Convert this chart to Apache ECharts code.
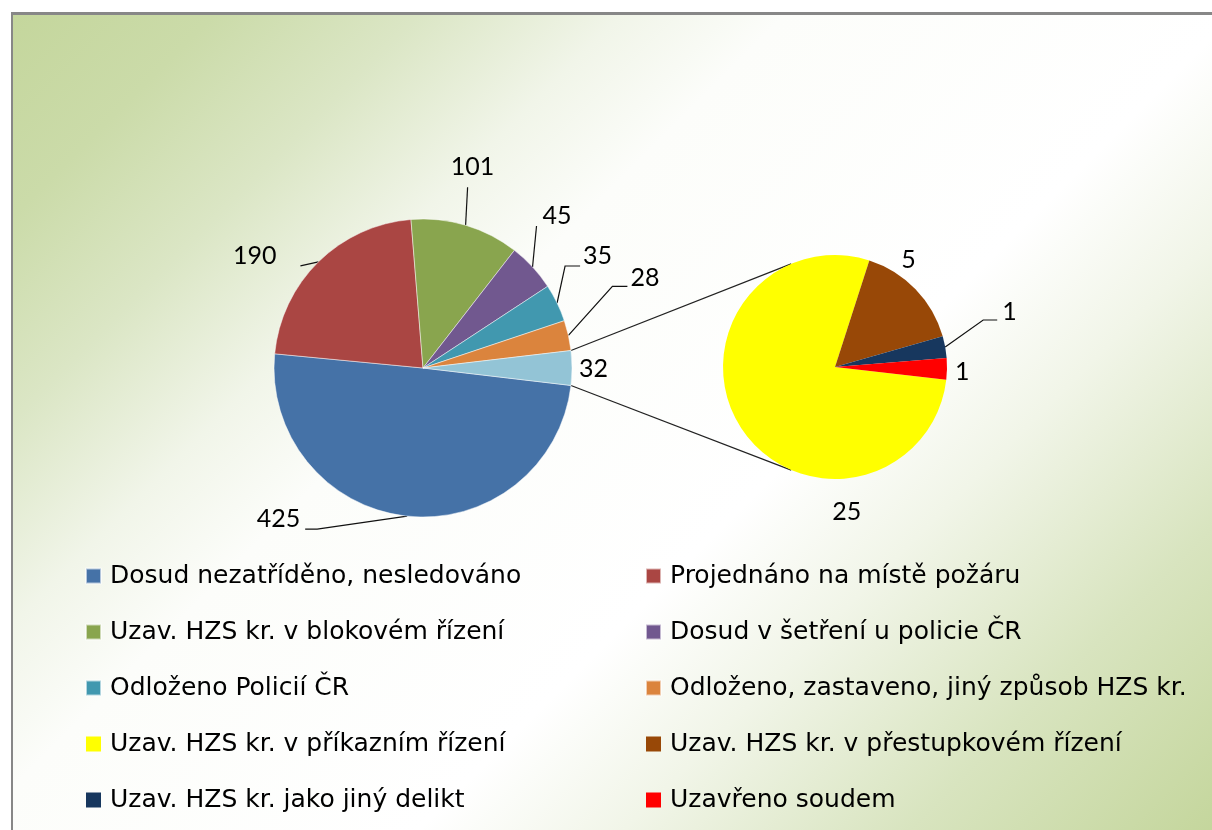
<!DOCTYPE html>
<html>
<head>
<meta charset="utf-8">
<script src="https://cdn.jsdelivr.net/npm/echarts@6/dist/echarts.min.js"></script>
<style>
  html, body { margin: 0; padding: 0; background: #fff; }
  #chart { width: 1212px; height: 830px; }
</style>
</head>
<body>
<div id="chart"></div>
<script>
// data
const mainNames = [
  'Dosud nezatříděno, nesledováno',
  'Projednáno na místě požáru',
  'Uzav. HZS kr. v blokovém řízení',
  'Dosud v šetření u policie ČR',
  'Odloženo Policií ČR',
  'Odloženo, zastaveno, jiný způsob HZS kr.',
  'Ostatní'
];
const mainValues = [425, 190, 101, 45, 35, 28, 32];

const subNames = [
  'Uzav. HZS kr. v příkazním řízení',
  'Uzav. HZS kr. v přestupkovém řízení',
  'Uzav. HZS kr. jako jiný delikt',
  'Uzavřeno soudem'
];
const subValues = [25, 5, 1, 1];

// styles
const mainColors = ['#4572a7', '#aa4643', '#89a54e', '#71588f', '#4198af', '#db843d', '#93c4d6'];
const subColors = ['#ffff00', '#984807', '#17375e', '#ff0000'];

// layout
const MAIN = {cx: 423, cy: 368, r: 149};
const SUB = {cx: 835, cy: 367, r: 112, start: -6.6};
const linkAngle = 113;
const labelFont = 'Lato, "Open Sans", sans-serif';
const legendFont = '"DejaVu Sans", sans-serif';

// label offsets from the slice edge point (mid angle)
const mainLabelPos = [
  {line: [[-90, 13], [-102, 13]], text: [-107, 3], align: 'right'},
  {line: [[-18, 4]], text: [-42, -6], align: 'right'},
  {line: [[2, -38]], text: [7, -58], align: 'center'},
  {line: [[4, -41]], text: [10, -51], align: 'left'},
  {line: [[8, -37], [23, -37]], text: [26, -47], align: 'left'},
  {line: [[44, -49], [59, -49]], text: [62, -58], align: 'left'},
  {line: null, text: [7, 1], align: 'left'}
];
const subLabelPos = [
  {line: null, text: [106, 84], align: 'center'},
  {line: null, text: [-7, -29], align: 'center'},
  {line: [[38, -27], [52, -27]], text: [57, -35], align: 'left'},
  {line: null, text: [8, 3], align: 'left'}
];

function sum(arr) {
  return arr.reduce((a, b) => a + b, 0);
}

// mid angles (deg) of slices, clockwise from start
function midAngles(values, start) {
  const total = sum(values);
  let a = start;
  return values.map(v => {
    const span = v / total * 360;
    const mid = a - span / 2;
    a -= span;
    return mid;
  });
}

function onCircle(c, deg) {
  const rad = deg * Math.PI / 180;
  return [c.cx + c.r * Math.cos(rad), c.cy - c.r * Math.sin(rad)];
}

const otherSpan = mainValues[mainValues.length - 1] / sum(mainValues) * 360;
const mainStart = -otherSpan / 2;
const mainMids = midAngles(mainValues, mainStart);
const subMids = midAngles(subValues, SUB.start);

function makeLayout(c, mids, specs) {
  return function(p) {
    const i = p.dataIndex;
    const s = specs[i];
    const anchor = onCircle(c, mids[i]);
    const out = {
      x: anchor[0] + s.text[0],
      y: anchor[1] + s.text[1],
      align: s.align,
      verticalAlign: 'middle'
    };
    if (s.line) {
      const pts = [anchor].concat(s.line.map(d => [anchor[0] + d[0], anchor[1] + d[1]]));
      while (pts.length < 3) pts.push(pts[pts.length - 1]);
      out.labelLinePoints = pts;
    }
    return out;
  };
}

function buildData(names, values, colors, specs) {
  return values.map((v, i) => ({
    name: names[i],
    value: v,
    itemStyle: {color: colors[i]},
    labelLine: {show: !!specs[i].line}
  }));
}

const labelStyle = {
  show: true,
  position: 'outside',
  formatter: '{c}',
  color: '#000',
  fontSize: 25,
  fontFamily: labelFont
};
const labelLineStyle = {show: true, length: 10, length2: 10, lineStyle: {color: '#111', width: 1.2}};

const legendBase = {
  orient: 'vertical',
  top: 563.5,
  padding: 0,
  itemGap: 31,
  itemWidth: 15,
  itemHeight: 15,
  icon: 'rect',
  selectedMode: false,
  textStyle: {color: '#000', fontSize: 25, lineHeight: 24, fontFamily: legendFont, padding: [0, 0, 0, 4]}
};

// connector lines between the pies
const topFrom = onCircle(MAIN, otherSpan / 2);
const botFrom = onCircle(MAIN, -otherSpan / 2);
const topTo = onCircle(SUB, linkAngle);
const botTo = onCircle(SUB, -linkAngle);

const chart = echarts.init(document.getElementById('chart'));
chart.setOption({
  animation: false,
  graphic: [
    {
      type: 'rect', z: -100, silent: true,
      shape: {x: 12, y: 13, width: 1300, height: 900},
      style: {
        fill: {
          type: 'linear', global: true, x: 12, y: 13, x2: 1032, y2: 1033,
          colorStops: [
            {offset: 0, color: '#c4d69c'},
            {offset: 0.1, color: '#cbdba9'},
            {offset: 0.2, color: '#dbe6c5'},
            {offset: 0.3, color: '#f1f5e9'},
            {offset: 0.38, color: '#fcfdfa'},
            {offset: 0.6, color: '#ffffff'},
            {offset: 0.7, color: '#f1f5e8'},
            {offset: 0.84, color: '#d8e4bf'},
            {offset: 1, color: '#c3d59a'}
          ]
        }
      }
    },
    {type: 'line', z: -50, silent: true, shape: {x1: 11, y1: 13.5, x2: 1212, y2: 13.5}, style: {stroke: '#878787', lineWidth: 3}},
    {type: 'line', z: -50, silent: true, shape: {x1: 12, y1: 12, x2: 12, y2: 830}, style: {stroke: '#878787', lineWidth: 2}},
    {type: 'line', z: 1, silent: true, shape: {x1: topFrom[0], y1: topFrom[1], x2: topTo[0], y2: topTo[1]}, style: {stroke: '#222', lineWidth: 1.2}},
    {type: 'line', z: 1, silent: true, shape: {x1: botFrom[0], y1: botFrom[1], x2: botTo[0], y2: botTo[1]}, style: {stroke: '#222', lineWidth: 1.2}}
  ],
  legend: [
    Object.assign({}, legendBase, {
      left: 85,
      data: [mainNames[0], mainNames[2], mainNames[4], subNames[0], subNames[2]]
    }),
    Object.assign({}, legendBase, {
      left: 645,
      data: [mainNames[1], mainNames[3], mainNames[5], subNames[1], subNames[3]]
    })
  ],
  series: [
    {
      type: 'pie',
      center: [MAIN.cx, MAIN.cy],
      radius: MAIN.r,
      startAngle: mainStart,
      clockwise: true,
      avoidLabelOverlap: false,
      emphasis: {disabled: true},
      itemStyle: {borderColor: 'rgba(255,255,255,0.6)', borderWidth: 0.8},
      label: labelStyle,
      labelLine: labelLineStyle,
      labelLayout: makeLayout(MAIN, mainMids, mainLabelPos),
      data: buildData(mainNames, mainValues, mainColors, mainLabelPos)
    },
    {
      type: 'pie',
      center: [SUB.cx, SUB.cy],
      radius: SUB.r,
      startAngle: SUB.start,
      clockwise: true,
      avoidLabelOverlap: false,
      emphasis: {disabled: true},
      itemStyle: {borderWidth: 0},
      label: labelStyle,
      labelLine: labelLineStyle,
      labelLayout: makeLayout(SUB, subMids, subLabelPos),
      data: buildData(subNames, subValues, subColors, subLabelPos)
    }
  ]
});
</script>
</body>
</html>
